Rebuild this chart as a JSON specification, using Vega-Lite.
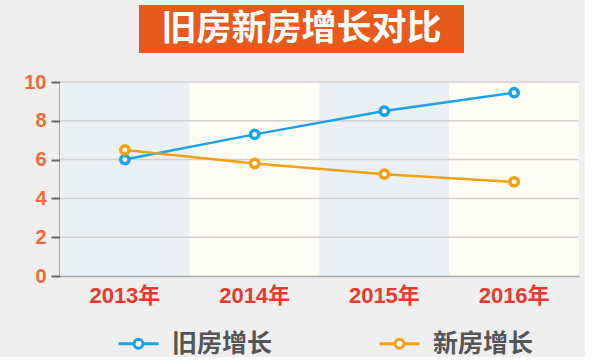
{
  "$schema": "https://vega.github.io/schema/vega-lite/v6.json",
  "background": "#efefef",
  "padding": {"left": 23, "top": 5, "right": 5, "bottom": 0},
  "config": {
    "view": {"stroke": null},
    "font": "Liberation Sans, Noto Sans CJK SC",
    "axisY": {
      "title": null, "grid": false, "values": [0, 2, 4, 6, 8, 10],
      "labelOverlap": false, "labelBound": false, "labelFlush": false,
      "domainColor": "#666666", "domainWidth": 2,
      "tickColor": "#666666", "tickWidth": 2, "tickSize": 9,
      "labelColor": "#f06a35", "labelFontSize": 20, "labelFontWeight": "bold",
      "labelPadding": 5
    }
  },
  "bounds": "full",
  "center": false,
  "spacing": 19,
  "vconcat": [
    {
      "spacing": 10,
      "hconcat": [
        {
          "width": 69,
          "height": 48,
          "data": {"values": [{"t": ""}]},
          "mark": {"type": "text", "opacity": 0},
          "encoding": {"text": {"field": "t"}}
        },
        {
          "width": 325,
          "height": 48,
          "view": {"fill": "#e85a1b", "stroke": null},
          "data": {"values": [{"t": "旧房新房增长对比"}]},
          "mark": {"type": "text", "fontSize": 35, "fontWeight": "bold", "color": "white", "font": "Noto Sans CJK SC"},
          "encoding": {"text": {"field": "t"}}
        }
      ]
    },
    {
      "width": 519,
      "height": 194,
      "data": {"values": [
        {"year": "2013年", "series": "旧房增长", "value": 6.0},
        {"year": "2014年", "series": "旧房增长", "value": 7.3},
        {"year": "2015年", "series": "旧房增长", "value": 8.5},
        {"year": "2016年", "series": "旧房增长", "value": 9.45},
        {"year": "2013年", "series": "新房增长", "value": 6.5},
        {"year": "2014年", "series": "新房增长", "value": 5.8},
        {"year": "2015年", "series": "新房增长", "value": 5.25},
        {"year": "2016年", "series": "新房增长", "value": 4.85}
      ]},
      "layer": [
        {
          "mark": {"type": "rect"},
          "encoding": {
            "x": {
              "field": "year", "type": "nominal", "sort": null,
              "scale": {"type": "band", "paddingInner": 0, "paddingOuter": 0},
              "axis": {
                "title": null, "labelAngle": 0, "ticks": false,
                "domainColor": "#a8a8a8", "domainWidth": 1.5,
                "labelColor": "#e83a30", "labelFontSize": 22, "labelFontWeight": "bold",
                "labelPadding": 9
              }
            },
            "fill": {
              "condition": {"test": "datum.year === '2013年' || datum.year === '2015年'", "value": "#ebf0f5"},
              "value": "#fffdf5"
            }
          }
        },
        {
          "data": {"values": [{"tick": 2}, {"tick": 4}, {"tick": 6}, {"tick": 8}, {"tick": 10}]},
          "mark": {"type": "rule", "color": "#d2d2d2", "strokeWidth": 1.5},
          "encoding": {"y": {"field": "tick", "type": "quantitative", "scale": {"domain": [0, 10]}}}
        },
        {
          "mark": {"type": "line", "strokeWidth": 2.5},
          "encoding": {
            "x": {"field": "year", "type": "nominal", "sort": null},
            "y": {"field": "value", "type": "quantitative"},
            "stroke": {
              "field": "series", "type": "nominal",
              "scale": {"domain": ["旧房增长", "新房增长"], "range": ["#1ba3e8", "#f5a010"]},
              "legend": {
                "title": null, "orient": "none", "legendX": 57, "legendY": 317,
                "direction": "horizontal",
                "symbolType": "M-1,0H-0.22M0.22,0H1M0.22,0A0.22,0.22,0,1,1,-0.22,0A0.22,0.22,0,1,1,0.22,0Z",
                "symbolSize": 1600, "symbolStrokeWidth": 3, "symbolFillColor": "white",
                "labelFontSize": 25, "labelFontWeight": "bold", "labelColor": "#555555",
                "labelFont": "Noto Sans CJK SC",
                "labelOffset": 12, "columnPadding": 100, "labelLimit": 300
              }
            }
          }
        },
        {
          "mark": {"type": "point", "filled": true, "fill": "white", "strokeWidth": 3.5, "size": 70, "opacity": 1},
          "encoding": {
            "x": {"field": "year", "type": "nominal", "sort": null},
            "y": {"field": "value", "type": "quantitative"},
            "stroke": {"field": "series", "type": "nominal"}
          }
        }
      ]
    }
  ]
}
